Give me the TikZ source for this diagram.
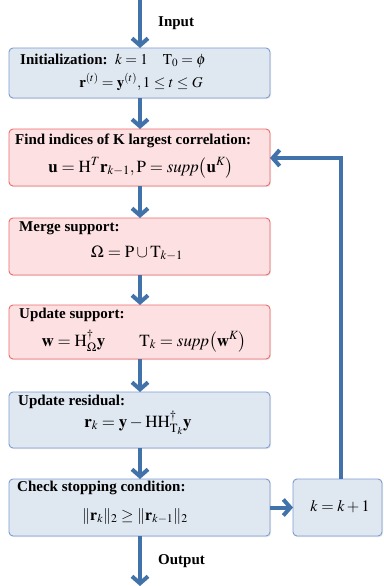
\documentclass[tikz,border=0pt]{standalone}
\usepackage{mathptmx}
\usepackage{fontspec}
\setmainfont{Liberation Serif}
\usetikzlibrary{arrows.meta,shadows}
\definecolor{arrblue}{HTML}{4272AA}
\definecolor{bfill}{HTML}{DFE7F1}
\definecolor{bdraw}{HTML}{7E9CD2}
\definecolor{rfill}{HTML}{FDE0E1}
\definecolor{rdraw}{HTML}{EE6A6A}
\tikzset{
  boxbase/.style={rectangle, rounded corners=4pt, line width=0.9pt, inner sep=0pt, outer sep=0pt,
    minimum width=261pt, drop shadow={shadow xshift=1pt, shadow yshift=-1.2pt, opacity=0.18}},
  bluebox/.style={boxbase, fill=bfill, draw=bdraw},
  redbox/.style={boxbase, fill=rfill, draw=rdraw},
  arr/.style={line width=4pt, draw=arrblue, -{Straight Barb[length=7pt,width=16pt]}},
  ttl/.style={anchor=west, inner sep=0pt, font=\fontsize{15}{18}\selectfont\bfseries},
  eq/.style={inner sep=0pt, text height=9pt, text depth=3pt, font=\fontsize{17}{20}\selectfont},
  lbl/.style={anchor=west, inner sep=0pt, font=\fontsize{15}{18}\selectfont\bfseries}
}
\begin{document}
\begin{tikzpicture}[x=1pt,y=-1pt]
\useasboundingbox (0,0) rectangle (383,586);
% boxes
\node[bluebox, minimum height=50pt] (b1) at (139.5,73) {};
\node[redbox, minimum height=57pt] (b2) at (139.5,157.5) {};
\node[redbox, minimum height=57pt] (b3) at (139.5,246.5) {};
\node[redbox, minimum height=54pt] (b4) at (139.5,332) {};
\node[bluebox, minimum height=56pt] (b5) at (139.5,420) {};
\node[bluebox, minimum height=57pt] (b6) at (139.5,507.5) {};
\node[bluebox, minimum height=57pt, minimum width=89pt] (b7) at (337.5,507.5) {};
% texts
\node[ttl] (t1) at (20,61) {Initialization:\ \ \mdseries$k=1\quad \mathrm{T}_0=\phi$};
\node[eq, font=\fontsize{15}{18}\selectfont] (e1) at (141,84) {$\mathbf{r}^{(t)}=\mathbf{y}^{(t)},1\leq t\leq G$};
\node[ttl] (t2) at (15,141) {Find indices of K largest correlation:};
\node[eq] (e2) at (141,169) {$\mathbf{u}=\mathrm{H}^{T}\mathbf{r}_{k-1},\mathrm{P}=\mathit{supp}\bigl(\mathbf{u}^{K}\bigr)$};
\node[ttl] (t3) at (19,228) {Merge support:};
\node[eq] (e3) at (137,254) {$\Omega=\mathrm{P}\cup\mathrm{T}_{k-1}$};
\node[ttl] (t4) at (19,315) {Update support:};
\node[eq] (e4) at (144,343) {$\mathbf{w}=\mathrm{H}_{\Omega}^{\dagger}\mathbf{y}\qquad \mathrm{T}_k=\mathit{supp}\bigl(\mathbf{w}^{K}\bigr)$};
\node[ttl] (t5) at (18,402) {Update residual:};
\node[eq] (e5) at (138,424) {$\mathbf{r}_k=\mathbf{y}-\mathrm{H}\mathrm{H}_{\mathrm{T}_k}^{\dagger}\mathbf{y}$};
\node[ttl] (t6) at (17,488) {Check stopping condition:};
\node[eq, font=\fontsize{16}{19}\selectfont] (e6) at (135,517) {$\|\mathbf{r}_k\|_2\geq\|\mathbf{r}_{k-1}\|_2$};
\node[eq, font=\fontsize{16}{19}\selectfont] (e7) at (340,508) {$k=k+1$};
\node[lbl] (lin) at (158,23) {Input};
\node[lbl] (lout) at (158,561) {Output};
% connectors
\coordinate (start) at (140,0);
\coordinate (finish) at (140,586);
\draw[arr] (start) -- (140,0 |- b1.north);
\draw[arr] (140,0 |- b1.south) -- (140,0 |- b2.north);
\draw[arr] (140,0 |- b2.south) -- (140,0 |- b3.north);
\draw[arr] (140,0 |- b3.south) -- (140,0 |- b4.north);
\draw[arr] (140,0 |- b4.south) -- (140,0 |- b5.north);
\draw[arr] (140,0 |- b5.south) -- (140,0 |- b6.north);
\draw[arr] (140,0 |- b6.south) -- (finish);
\draw[arr] (b6.east) -- (b7.west);
\draw[arr] (341,0 |- b7.north) -- (341,158) -- (b2.east |- 0,158);
\end{tikzpicture}
\end{document}
